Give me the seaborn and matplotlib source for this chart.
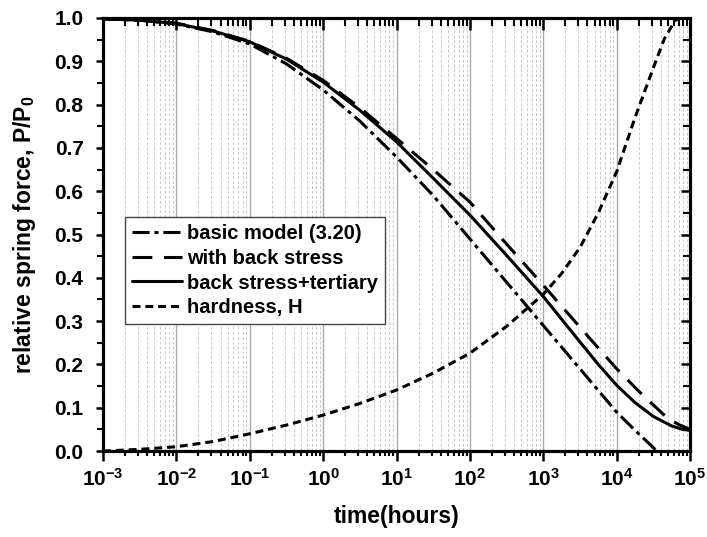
import numpy as np
import pandas as pd
import seaborn as sns
import matplotlib
matplotlib.use("Agg")
import matplotlib.pyplot as plt
from matplotlib.ticker import LogLocator, MultipleLocator, NullFormatter, FormatStrFormatter

# ---- data (x given as log10(time in hours)) ----
basic_logt = [-3, -2.5, -2, -1.5, -1, -0.5, 0, 0.5, 1, 1.5, 2, 2.5, 3, 3.5, 4, 4.25, 4.55]
basic_val = [0.998, 0.995, 0.986, 0.968, 0.940, 0.894, 0.834, 0.762, 0.679, 0.590,
             0.490, 0.390, 0.290, 0.190, 0.090, 0.048, 0.0]

back_logt = [-3, -2.5, -2, -1.5, -1, -0.5, 0, 0.5, 1, 1.5, 2, 2.5, 3, 3.5, 4,
             4.35, 4.7, 4.85, 5]
back_val = [0.998, 0.995, 0.988, 0.971, 0.946, 0.907, 0.856, 0.793, 0.722, 0.650,
            0.575, 0.478, 0.383, 0.286, 0.190, 0.130, 0.075, 0.061, 0.050]

tert_logt = [-3, -2.5, -2, -1.5, -1, -0.5, 0, 0.5, 1, 1.5, 2, 2.5, 3, 3.5, 3.75, 4,
             4.25, 4.5, 4.75, 4.9, 5]
tert_val = [0.998, 0.995, 0.987, 0.970, 0.945, 0.905, 0.852, 0.787, 0.714, 0.630,
            0.545, 0.452, 0.357, 0.252, 0.200, 0.152, 0.112, 0.080, 0.058, 0.050, 0.048]

hard_logt = [-3, -2.5, -2, -1.5, -1, -0.5, 0, 0.5, 1, 1.5, 2, 2.5, 3, 3.25, 3.5,
             3.75, 4, 4.25, 4.5, 4.65, 4.8, 4.88]
hard_val = [0.0, 0.004, 0.010, 0.022, 0.040, 0.060, 0.083, 0.110, 0.141, 0.180,
            0.226, 0.288, 0.362, 0.410, 0.470, 0.550, 0.645, 0.770, 0.885, 0.952,
            0.995, 1.0]

labels = ["basic model (3.20)", "with back stress", "back stress+tertiary", "hardness, H"]

# ---- style ----
sns.set_theme(style="white")
plt.rcParams["font.family"] = ["Liberation Sans", "DejaVu Sans"]
plt.rcParams["font.weight"] = "bold"
plt.rcParams["mathtext.fontset"] = "custom"
plt.rcParams["mathtext.rm"] = "Liberation Sans:bold"
plt.rcParams["mathtext.bf"] = "Liberation Sans:bold"
plt.rcParams["mathtext.it"] = "Liberation Sans:bold"
plt.rcParams["axes.edgecolor"] = "black"
plt.rcParams["axes.linewidth"] = 2.2
plt.rcParams["xtick.color"] = "black"
plt.rcParams["ytick.color"] = "black"

fig, ax = plt.subplots(figsize=(7.07, 5.37), dpi=100)
fig.subplots_adjust(left=0.1457, right=0.976, bottom=0.160, top=0.9665)

lw = 2.2
series = [
    (basic_logt, basic_val, labels[0], (0, (5.6, 1.6, 1.3, 1.6))),
    (back_logt, back_val, labels[1], (0, (6.5, 3.8))),
    (tert_logt, tert_val, labels[2], "-"),
    (hard_logt, hard_val, labels[3], (0, (2.6, 1.6))),
]
for lt, vals, lab, ls in series:
    df = pd.DataFrame({"t": 10 ** np.array(lt, dtype=float), "v": vals})
    sns.lineplot(data=df, x="t", y="v", ax=ax, color="black", lw=lw,
                 linestyle=ls, label=lab, sort=False)

XLIM = (1e-3, 1e5)
YLIM = (0, 1.0)
ax.set_xscale("log")
ax.set_xlim(*XLIM)
ax.set_ylim(*YLIM)

ax.xaxis.set_major_locator(LogLocator(base=10, numticks=20))
ax.xaxis.set_minor_locator(LogLocator(base=10, subs=np.arange(2, 10), numticks=20))
ax.xaxis.set_minor_formatter(NullFormatter())
ax.yaxis.set_major_locator(MultipleLocator(0.1))
ax.yaxis.set_minor_locator(MultipleLocator(0.05))
ax.yaxis.set_major_formatter(FormatStrFormatter("%.1f"))

ax.grid(which="major", axis="x", color="#ababab", lw=1.0, ls="-")
ax.grid(which="minor", axis="x", color="#c9c9c9", lw=0.7, ls=(0, (3, 2)))
ax.yaxis.grid(False, which="both")
ax.set_axisbelow(True)

for sp in ax.spines.values():
    sp.set_linewidth(2.2)
    sp.set_color("black")

ax.tick_params(axis="x", which="major", direction="out", length=7, width=1.8,
               labelsize=15, pad=5, colors="black", bottom=True, top=False)
ax.tick_params(axis="x", which="minor", direction="out", length=3.5, width=1.5,
               bottom=True, top=False)
ax.tick_params(axis="y", which="major", direction="out", length=5, width=1.8,
               labelsize=15, pad=9, colors="black", left=True, right=False)
ax.tick_params(axis="y", which="minor", direction="out", length=4, width=1.5,
               left=True, right=False)

# top axis: inward ticks, no labels
axt = ax.twiny()
axt.set_xscale("log")
axt.set_xlim(*XLIM)
axt.xaxis.set_major_locator(LogLocator(base=10, numticks=20))
axt.xaxis.set_minor_locator(LogLocator(base=10, subs=np.arange(2, 10), numticks=20))
axt.xaxis.set_minor_formatter(NullFormatter())
axt.tick_params(axis="x", which="major", direction="in", length=8.5, width=1.8,
                top=True, bottom=False, labeltop=False, labelbottom=False,
                colors="black")
axt.tick_params(axis="x", which="minor", direction="in", length=5.5, width=1.5,
                top=True, bottom=False, labeltop=False, labelbottom=False,
                colors="black")
axt.grid(False)

# right axis: inward ticks, no labels
axr = ax.twinx()
axr.set_ylim(*YLIM)
axr.yaxis.set_major_locator(MultipleLocator(0.1))
axr.yaxis.set_minor_locator(MultipleLocator(0.05))
axr.tick_params(axis="y", which="major", direction="in", length=6.5, width=1.8,
                right=True, left=False, labelright=False, labelleft=False,
                colors="black")
axr.tick_params(axis="y", which="minor", direction="in", length=5, width=1.5,
                right=True, left=False, labelright=False, labelleft=False,
                colors="black")
axr.grid(False)

for a in (axt, axr):
    for sp in a.spines.values():
        sp.set_linewidth(2.2)
        sp.set_color("black")

ax.set_xlabel("time(hours)", fontsize=16.5, fontweight="bold", labelpad=11, color="black")
ax.set_ylabel(r"relative spring force, P/P$_0$", fontsize=16.5, fontweight="bold",
              labelpad=12, color="black")

leg = ax.legend(loc="upper left", bbox_to_anchor=(0.037, 0.54), frameon=True,
                fancybox=False, edgecolor="#444444", framealpha=1,
                prop={"weight": "bold", "size": 14.5}, handlelength=2.5,
                handletextpad=0.25, borderpad=0.35, labelspacing=0.28,
                borderaxespad=0)
leg.get_frame().set_linewidth(1.0)
for t in leg.get_texts():
    t.set_color("black")

fig.savefig("out.png", dpi=100)
